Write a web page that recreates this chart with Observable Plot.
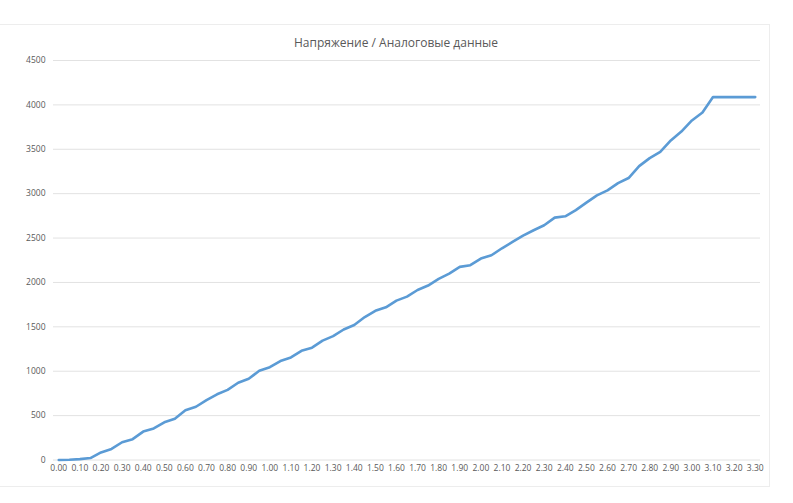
<!DOCTYPE html>
<html>
<head>
<meta charset="utf-8">
<script src="https://cdn.jsdelivr.net/npm/d3@7"></script>
<script src="https://cdn.jsdelivr.net/npm/@observablehq/plot@0.6"></script>
<style>
  html, body { margin: 0; padding: 0; background: #fff; }
  #wrap { position: relative; width: 793px; height: 503px; overflow: hidden; }
  #frame { position: absolute; left: -2px; top: 24px; width: 772px; height: 463px;
           border-top: 1px solid #ededed; border-right: 1px solid #ededed; border-bottom: 1px solid #ededed; box-sizing: border-box; }
  svg { position: absolute; left: 0; top: 0; }
</style>
</head>
<body>
<div id="wrap"><div id="frame"></div></div>
<script>
const title = "Напряжение / Аналоговые данные";

const voltage = [
  "0.00","0.05","0.10","0.15","0.20","0.25","0.30","0.35","0.40","0.45",
  "0.50","0.55","0.60","0.65","0.70","0.75","0.80","0.85","0.90","0.95",
  "1.00","1.05","1.10","1.15","1.20","1.25","1.30","1.35","1.40","1.45",
  "1.50","1.55","1.60","1.65","1.70","1.75","1.80","1.85","1.90","1.95",
  "2.00","2.05","2.10","2.15","2.20","2.25","2.30","2.35","2.40","2.45",
  "2.50","2.55","2.60","2.65","2.70","2.75","2.80","2.85","2.90","2.95",
  "3.00","3.05","3.10","3.15","3.20","3.25","3.30"
];

const analog = [
  0, 2, 10, 22, 85, 125, 200, 235, 320, 355,
  425, 465, 560, 600, 675, 740, 790, 870, 915, 1005,
  1045, 1115, 1155, 1230, 1265, 1345, 1395, 1470, 1520, 1610,
  1680, 1720, 1795, 1840, 1915, 1965, 2040, 2100, 2175, 2194,
  2269, 2306, 2385, 2456, 2528, 2588, 2644, 2730, 2745, 2815,
  2899, 2980, 3037, 3118, 3176, 3310, 3400, 3470, 3600, 3700,
  3825, 3915, 4088, 4088, 4088, 4088, 4088
];

const xTickLabels = [
  "0.00","0.10","0.20","0.30","0.40","0.50","0.60","0.70","0.80","0.90",
  "1.00","1.10","1.20","1.30","1.40","1.50","1.60","1.70","1.80","1.90",
  "2.00","2.10","2.20","2.30","2.40","2.50","2.60","2.70","2.80","2.90",
  "3.00","3.10","3.20","3.30"
];

const yTicks = [0, 500, 1000, 1500, 2000, 2500, 3000, 3500, 4000, 4500];

const data = voltage.map((v, i) => ({v, a: analog[i]}));

const chart = Plot.plot({
  width: 793,
  height: 503,
  marginLeft: 53,
  marginRight: 33,
  marginTop: 60,
  marginBottom: 43.5,
  style: {fontFamily: "'Open Sans', sans-serif", fontSize: "8.5px", color: "#595959", background: "transparent", overflow: "visible"},
  x: {type: "point", domain: voltage, padding: 0.5, label: null},
  y: {domain: [0, 4500], label: null},
  marks: [
    Plot.ruleY(yTicks, {stroke: "#e2e2e2", strokeWidth: 1}),
    Plot.axisX({ticks: xTickLabels, tickSize: 0, tickPadding: 5, fontSize: 8.5, fill: "#595959"}),
    Plot.axisY({ticks: yTicks, tickFormat: d => String(d), tickSize: 0, tickPadding: 8, fontSize: 8.5, fill: "#595959"}),
    Plot.line(data, {x: "v", y: "a", stroke: "#5b9bd5", strokeWidth: 2.6, strokeLinejoin: "round", strokeLinecap: "round"}),
    Plot.text([title], {frameAnchor: "top", dy: -22, dx: -11, fontSize: 12, fill: "#595959"})
  ]
});
document.getElementById("wrap").appendChild(chart);
</script>
</body>
</html>
